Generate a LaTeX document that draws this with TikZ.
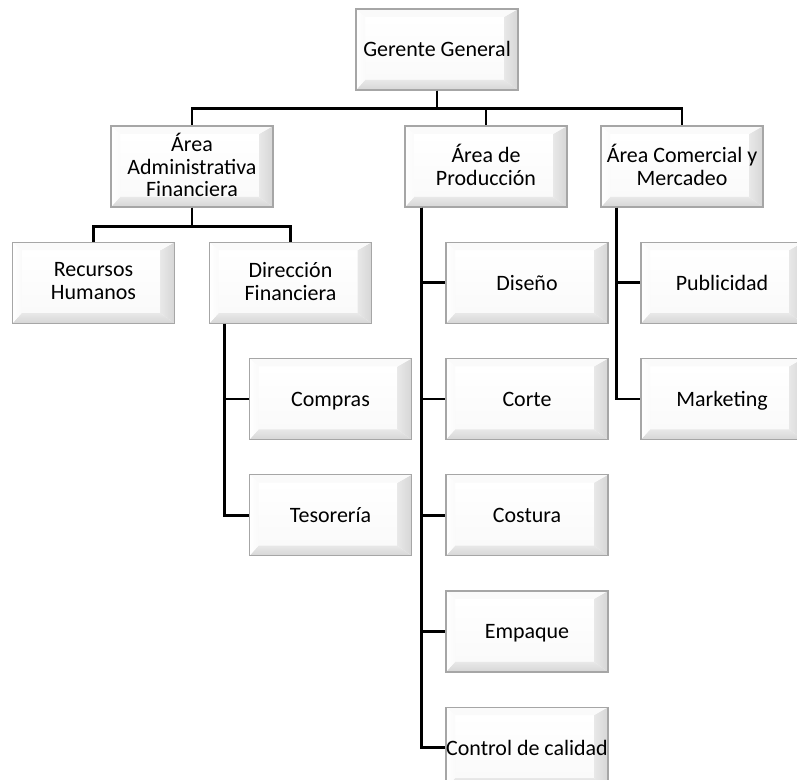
\documentclass[tikz,border=0pt]{standalone}
\usepackage{fontspec}
\setmainfont{Carlito}
\usetikzlibrary{positioning, calc}
\definecolor{bordecargo}{RGB}{166,166,166}
\definecolor{biselclaro}{RGB}{250,250,250}
\definecolor{biselmedio}{RGB}{232,232,232}
\definecolor{biseloscuro}{RGB}{214,214,214}
\newcommand{\puntal}{\rule[-1.8pt]{0pt}{12pt}}

\tikzset{
	cargo/.style={
		rectangle,
		draw=bordecargo,
		line width=0.7pt,
		fill=white,
		minimum width=3.24cm,                   % Anchura fija
		minimum height=1.62cm,                  % Altura fija
		inner sep=0pt,
		align=center,
		font=\fontsize{12.5}{13}\selectfont,
		execute at begin node=\puntal,
		execute at end node=\puntal,
		path picture={
			\path (path picture bounding box.south west) coordinate (bsw)
			      (path picture bounding box.south east) coordinate (bse)
			      (path picture bounding box.north east) coordinate (bne)
			      (path picture bounding box.north west) coordinate (bnw);
			% cara central
			\shade[top color=white, bottom color=biselclaro]
			  ([shift={(0.18,0.2)}]bsw) rectangle ([shift={(-0.28,-0.16)}]bne);
			% bisel inferior
			\shade[top color=biselmedio, bottom color=biseloscuro]
			  (bsw) -- (bse) -- ([shift={(-0.28,0.2)}]bse) -- ([shift={(0.18,0.2)}]bsw) -- cycle;
			% bisel derecho
			\shade[left color=biselmedio, right color=biseloscuro]
			  (bse) -- (bne) -- ([shift={(-0.28,-0.16)}]bne) -- ([shift={(-0.28,0.2)}]bse) -- cycle;
			% bisel superior
			\fill[biselclaro]
			  (bnw) -- (bne) -- ([shift={(-0.28,-0.16)}]bne) -- ([shift={(0.18,-0.16)}]bnw) -- cycle;
			% bisel izquierdo
			\shade[left color=white, right color=biselclaro]
			  (bnw) -- (bsw) -- ([shift={(0.18,0.2)}]bsw) -- ([shift={(0.18,-0.16)}]bnw) -- cycle;
		}
	},
	enlace/.style={draw=black, line width=1.6pt}
}

\begin{document}
\begin{tikzpicture}[node distance = 0.68cm]
	\useasboundingbox (0,0) rectangle (15.94,-15.6);
	
	% Nivel 0
	\node[cargo] (gerente) at (8.74,-0.99) {Gerente General};
	
	% Nivel 1
	\node[cargo] (admin) at (3.84,-3.33) {Área\\Administrativa\\Financiera};
	\node[cargo] (produccion) at (9.72,-3.33) {Área de\\Producción};
	\node[cargo] (comercial) at (13.64,-3.33) {Área Comercial y\\Mercadeo};
	
	% Nivel 2 - Administrativa
	\node[cargo, below=of admin, xshift=-1.97cm] (rrhh) {Recursos\\Humanos};
	\node[cargo, below=of admin, xshift=1.97cm] (direccion) {Dirección\\Financiera};
	\node[cargo, below=of direccion, xshift=0.8cm] (compras) {Compras};
	\node[cargo, below=of compras] (tesoreria) {Tesorería};
	
	% Nivel 2 - Producción
	\node[cargo, below=of produccion, xshift=0.82cm] (diseno) {Diseño};
	\node[cargo, below=of diseno] (corte) {Corte};
	\node[cargo, below=of corte] (costura) {Costura};
	\node[cargo, below=of costura] (empaque) {Empaque};
	\node[cargo, below=of empaque] (calidad) {Control de calidad};
	
	% Nivel 2 - Comercial
	\node[cargo, below=of comercial, xshift=0.8cm] (publicidad) {Publicidad};
	\node[cargo, below=of publicidad] (marketing) {Marketing};
	
	% Conectores
	\draw[enlace] (gerente.south) -- ++(0,-0.36) -| (admin.north);
	\draw[enlace] (gerente.south) -- ++(0,-0.36) -| (produccion.north);
	\draw[enlace] (gerente.south) -- ++(0,-0.36) -| (comercial.north);
	
	\draw[enlace] (admin.south) -- ++(0,-0.38) -| (rrhh.north);
	\draw[enlace] (admin.south) -- ++(0,-0.38) -| (direccion.north);
	
	\foreach \hijo in {compras, tesoreria}
		\draw[enlace] ([xshift=0.32cm]direccion.south west) |- (\hijo.west);
	\foreach \hijo in {diseno, corte, costura, empaque, calidad}
		\draw[enlace] ([xshift=0.34cm]produccion.south west) |- (\hijo.west);
	\foreach \hijo in {publicidad, marketing}
		\draw[enlace] ([xshift=0.32cm]comercial.south west) |- (\hijo.west);
\end{tikzpicture}
\end{document}
